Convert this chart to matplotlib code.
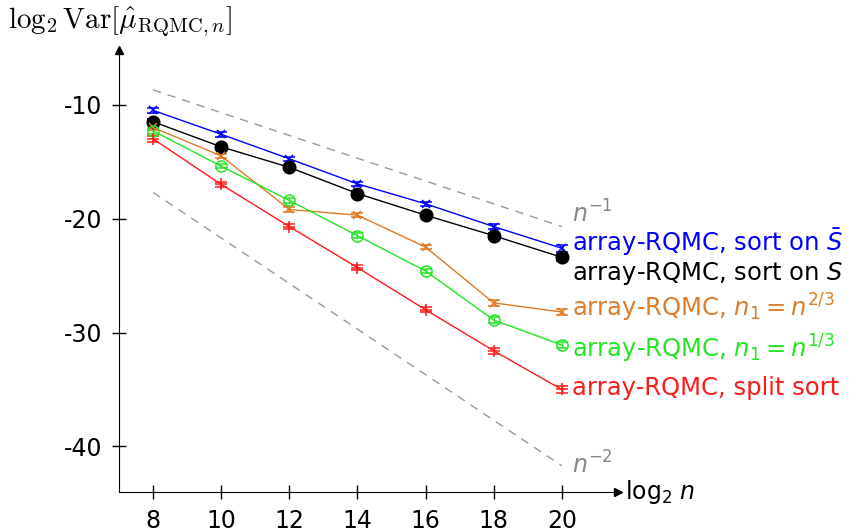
import numpy as np
import matplotlib
matplotlib.use("Agg")
import matplotlib.pyplot as plt

plt.rcParams['font.family'] = ['DejaVu Sans']
plt.rcParams['mathtext.fontset'] = 'dejavusans'
plt.rcParams['axes.unicode_minus'] = False

# data
log2n = [8, 10, 12, 14, 16, 18, 20]
sort_sbar = [-10.5, -12.6, -14.75, -16.95, -18.7, -20.7, -22.6]
sort_s = [-11.5, -13.7, -15.5, -17.8, -19.7, -21.5, -23.4]
n1_23 = [-12.0, -14.5, -19.2, -19.7, -22.5, -27.4, -28.2]
n1_13 = [-12.3, -15.4, -18.4, -21.5, -24.6, -28.9, -31.1]
split_sort = [-13.0, -17.0, -20.7, -24.3, -28.0, -31.6, -35.0]
err = [0.25, 0.2, 0.2, 0.2, 0.2, 0.25, 0.3]

ref_x = [8, 20]
ref_n1 = [-8.7, -20.7]
ref_n2 = [-17.7, -41.7]

labels = [r'array-RQMC, sort on $\bar{S}$',
          r'array-RQMC, sort on $S$',
          r'array-RQMC, $n_1 = n^{2/3}$',
          r'array-RQMC, $n_1 = n^{1/3}$',
          'array-RQMC, split sort']
label_y = [-22.1, -24.8, -27.85, -31.4, -34.9]

series = [sort_sbar, sort_s, n1_23, n1_13, split_sort]
colors = ['#0000ff', '#000000', '#e07b28', '#22e622', '#ff1a1a']
markers = ['x', 'o', 'x', 'o', '+']
msizes = [6, 9, 6, 8, 8]
mfaces = ['#0000ff', '#000000', '#e07b28', 'none', '#ff1a1a']

fig = plt.figure(figsize=(8.62, 5.31), dpi=100)
ax = fig.add_axes([119 / 862, 39 / 531, 499 / 862, 442 / 531])
ax.set_xlim(7.0, 21.65)
ax.set_ylim(-44.0, -5.2)

ax.plot(ref_x, ref_n1, '--', color='#999999', lw=1, dashes=(6, 5))
ax.plot(ref_x, ref_n2, '--', color='#999999', lw=1, dashes=(6, 5))

for ys, c, m, ms, mf in zip(series, colors, markers, msizes, mfaces):
    ax.errorbar(log2n, ys, yerr=err, color=c, marker=m, ms=ms, mfc=mf,
                mec=c, mew=1.1, lw=1, capsize=4, elinewidth=1)

for lab, ly, c in zip(labels, label_y, colors):
    ax.text(20.3, ly, lab, color=c, fontsize=17.5, va='center', ha='left',
            clip_on=False)

ax.text(20.3, -19.6, r'$n^{-1}$', color='#888888', fontsize=17, va='center')
ax.text(20.3, -41.6, r'$n^{-2}$', color='#888888', fontsize=17, va='center')

for s in ['top', 'right']:
    ax.spines[s].set_visible(False)
ax.plot(1, 0, '>k', ms=6, transform=ax.transAxes, clip_on=False)
ax.plot(0, 1, '^k', ms=6, transform=ax.transAxes, clip_on=False)

ax.set_xticks(log2n)
ax.set_yticks([-10, -20, -30, -40])
ax.tick_params(direction='inout', length=10, width=1, labelsize=17)
ax.tick_params(axis='x', pad=7)
ax.tick_params(axis='y', pad=7)

ax.text(1.015, 0, r'log$_2$ $n$', transform=ax.transAxes, fontsize=17,
        va='center', ha='left')
fig.text(8 / 862, 1 - 22 / 531,
         r'$\log_2 \mathrm{Var}[\hat{\mu}_{\mathrm{RQMC},n}]$',
         fontsize=21, va='center', ha='left', math_fontfamily='cm')

fig.savefig('out.png', dpi=100)
